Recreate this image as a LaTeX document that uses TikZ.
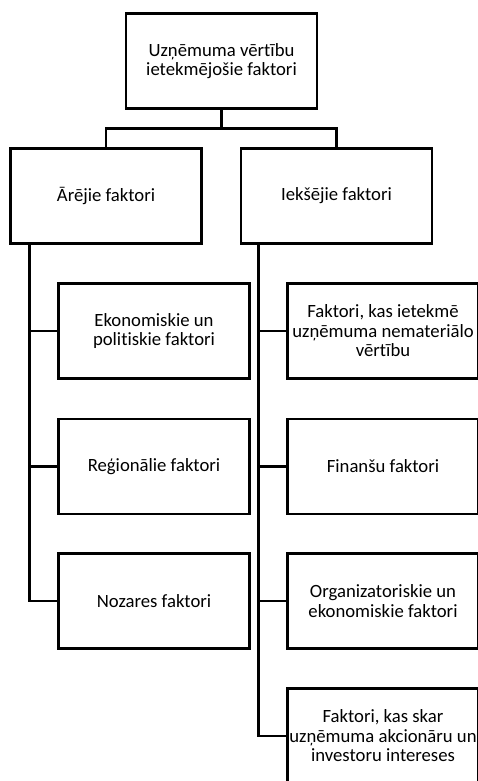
\documentclass[tikz,border=0pt]{standalone}
\usepackage{fontspec}
\setmainfont{Carlito}[Ligatures=NoCommon]

\begin{document}
\begin{tikzpicture}[x=1pt,y=-1pt,
        box/.style={draw, line width=2.6pt, fill=white, minimum width=191pt,
            minimum height=95pt, inner sep=0pt, align=center,
            font=\fontsize{18.7}{19.5}\selectfont},
        link/.style={line width=2.6pt}]
        \useasboundingbox (0,0) rectangle (478,781);

        % Top box
        \node[box] (root) at (221.5,61) {Uzņēmuma vērtību\\ietekmējošie faktori};

        % Second level
        \node[box] (ext) at (106,196) {Ārējie faktori};
        \node[box] (int) at (336.5,196) {Iekšējie faktori};

        \coordinate (split) at (221.5,128.5);
        \draw[link] (root.south) -- (split);
        \draw[link] (split) -| (ext.north);
        \draw[link] (split) -| (int.north);

        % Left side (external)
        \foreach \i/\y/\txt in {1/331/{Ekonomiskie un\\politiskie faktori},
                                 2/466.5/{Reģionālie faktori},
                                 3/601/{Nozares faktori}} {
            \node[box] (ext\i) at (154,\y) {\txt};
        }
        \coordinate (exttrunk) at ([xshift=20pt]ext.south west);
        \foreach \i in {1,2,3} {
            \draw[link] (exttrunk) |- (ext\i.west);
        }

        % Right side (internal)
        \foreach \i/\y/\txt in {1/331/{Faktori, kas ietekmē\\uzņēmuma nemateriālo\\vērtību},
                                 2/466.5/{Finanšu faktori},
                                 3/601/{Organizatoriskie un\\ekonomiskie faktori},
                                 4/736/{Faktori, kas skar\\uzņēmuma akcionāru un\\investoru intereses}} {
            \node[box] (int\i) at (383,\y) {\txt};
        }
        \coordinate (inttrunk) at ([xshift=19pt]int.south west);
        \foreach \i in {1,2,3,4} {
            \draw[link] (inttrunk) |- (int\i.west);
        }
    \end{tikzpicture}
\end{document}
